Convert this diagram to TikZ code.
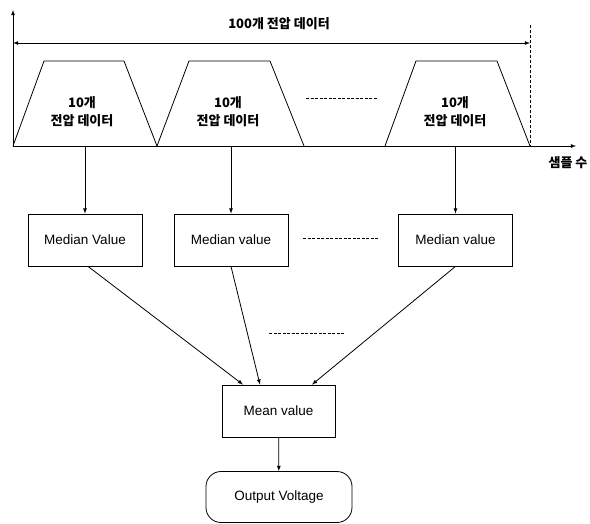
\documentclass[tikz,border=0pt]{standalone}
\usepackage{fontspec}
\setmainfont{Liberation Sans}
\newfontfamily\kofont{Noto Sans CJK KR}
\usetikzlibrary{calc}

\tikzset{
  kolabel/.style={inner sep=0pt, font=\kofont\bfseries\fontsize{13}{17.5}\selectfont},
  valbox/.style={draw, line width=0.8pt, minimum width=114pt, minimum height=52pt,
    font=\fontsize{13.5}{16}\selectfont},
  outbox/.style={valbox, rounded corners=15pt, minimum width=146pt, minimum height=51pt},
  dotline/.style={line width=0.7pt, dash pattern=on 3pt off 1.5pt}
}

\begin{document}
\begin{tikzpicture}[x=1pt, y=-1pt, line width=0.8pt, >=latex]
	%%%%% START %%%%%
	\useasboundingbox (0, 0) rectangle (590, 523);

	% axes
	\draw[->] (13, 146) -- (13, 10);
	\draw[->] (13, 146) -- (576, 146);
	\node[kolabel] (axis) at (568, 163) {샘플 수};

	\draw[<->] (13, 43) -- (530, 43);
	\draw[line width=0.5pt, densely dashed] (530, 25) -- (530, 146);
	\node[kolabel] (total) at (279, 24) {100개 전압 데이터};

	% trapezoids
	\draw (13, 146) -- (44, 61) -- (124, 61) -- (157, 146);
	\draw (157, 146) -- (189, 61) -- (270, 61) -- (304, 146);
	\draw (385, 146) -- (416, 61) -- (497, 61) -- (530, 146);
	\node[kolabel, align=center] (grp1) at (82, 111.5) {10개\\전압 데이터};
	\node[kolabel, align=center] (grp2) at (228, 111.5) {10개\\전압 데이터};
	\node[kolabel, align=center] (grp3) at (455, 111.5) {10개\\전압 데이터};
	\draw[dotline] (306, 98) -- (378, 98);

	% median blocks
	\node[valbox] (med1) at (85, 240) {Median Value};
	\node[valbox] (med2) at (231, 240) {Median value};
	\node[valbox] (med3) at (455.5, 240) {Median value};
	\draw[dotline] (303, 238) -- (378, 238);

	\coordinate (b1) at (85, 146);
	\coordinate (b2) at (231, 146);
	\coordinate (b3) at (455.5, 146);
	\draw[->] (b1) -- (med1);
	\draw[->] (b2) -- (med2);
	\draw[->] (b3) -- (med3);

	% mean and output
	\node[valbox, minimum width=113pt] (mean) at (278.5, 411) {Mean value};
	\node[outbox] (out) at (279, 497) {Output Voltage};
	\draw[dotline] (269, 333) -- (344, 333);

	\draw[->] ([xshift=3pt]med1.south) -- ([xshift=-35.5pt]mean.north);
	\draw[->] (med2.south) -- ([xshift=-18.5pt]mean.north);
	\draw[->] (med3.south) -- ([xshift=33.5pt]mean.north);
	\draw[->] (mean) -- (out);

	%%%%% END %%%%%
\end{tikzpicture}
\end{document}
